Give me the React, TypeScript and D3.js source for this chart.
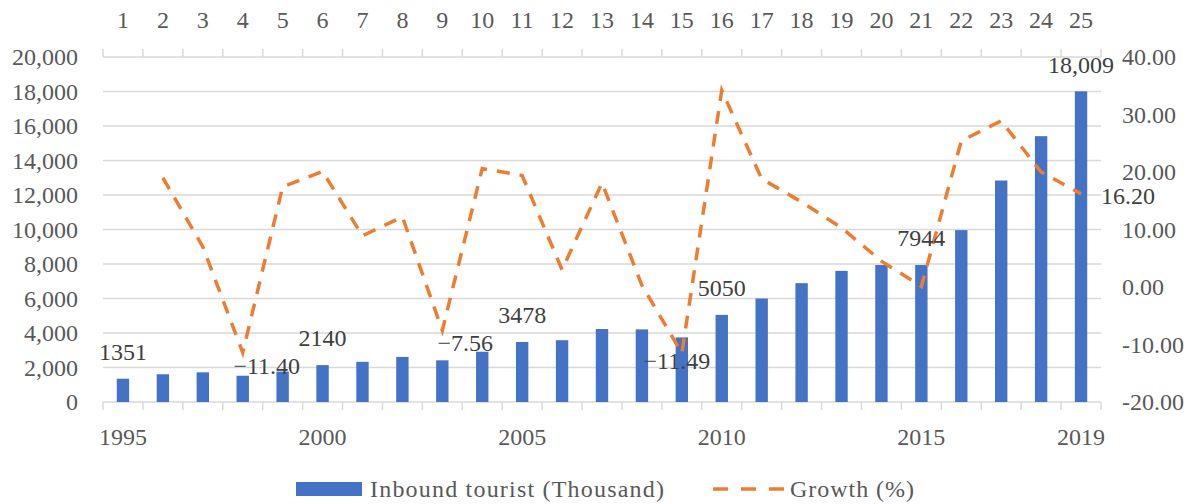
import * as d3 from 'd3';
import React from 'react';

// --------------------------------------------------------
// data
// --------------------------------------------------------
const years = [1995, 1996, 1997, 1998, 1999, 2000, 2001, 2002, 2003, 2004, 2005, 2006, 2007,
  2008, 2009, 2010, 2011, 2012, 2013, 2014, 2015, 2016, 2017, 2018, 2019];

const tourists = [1351, 1608, 1720, 1524, 1763, 2140, 2330, 2614, 2416, 2914, 3478, 3582, 4230,
  4210, 3745, 5050, 6000, 6888, 7600, 7940, 7944, 9962, 12840, 15410, 18009];

const growth = [null, 19.0, 7.0, -11.40, 17.4, 20.1, 8.9, 12.2, -7.56, 20.6, 19.4, 3.0, 18.1,
  0.3, -11.49, 34.2, 18.8, 14.8, 10.3, 4.5, 0.1, 25.4, 28.9, 20.0, 16.20];

const bottomTickYears = [1995, 2000, 2005, 2010, 2015, 2019];
const leftTicks = [0, 2000, 4000, 6000, 8000, 10000, 12000, 14000, 16000, 18000, 20000];
const rightTicks = [-20, -10, 0, 10, 20, 30, 40];

const barLabelYears = [1995, 2000, 2005, 2010, 2015, 2019];
const growthLabelYears = [1998, 2003, 2009, 2019];

const seriesNames = ['Inbound tourist (Thousand)', 'Growth (%)'];

// label placement (offsets from the point, px)
const growthLabelOffset = {
  1998: [24, 13, 'middle'],
  2003: [23, 12, 'middle'],
  2009: [-5, 8, 'middle'],
  2019: [20, 2, 'start'],
};

const BLUE = '#4472C4';
const ORANGE = '#ED7D31';
const GRID = '#d9d9d9';
const AXIS_TXT = '#595959';
const LABEL_TXT = '#404040';
const FONT = '"Liberation Serif", "Times New Roman", serif';

export default function App() {
  const W = 1192, H = 504;
  const left = 103, right = 1101, top = 57, bottom = 402;

  const x = d3.scaleBand().domain(years.map(String)).range([left, right]).padding(0);
  const step = x.step();
  const cx = (yr) => x(String(yr)) + step / 2;
  const barW = step * 0.31;

  const yL = d3.scaleLinear([0, 20000], [bottom, top]);
  const yR = d3.scaleLinear([-20, 40], [bottom, top]);

  const line = d3.line()
    .defined(d => d[1] != null)
    .x(d => cx(d[0]))
    .y(d => yR(d[1]));
  const growthPts = years.map((yr, i) => [yr, growth[i]]);

  const boundaries = d3.range(years.length + 1).map(i => left + i * step);

  return (
    <div style={{ position: 'absolute', left: 0, top: 0 }}>
      <svg width={W} height={H} style={{ display: 'block', fontFamily: FONT }}>
        <rect width={W} height={H} fill="#fff" />

        {/* gridlines */}
        {leftTicks.map(t => (
          <line key={t} x1={left} x2={right} y1={yL(t)} y2={yL(t)} stroke={GRID} strokeWidth={1.5} />
        ))}

        {/* top and bottom tick marks */}
        {boundaries.map((bx, i) => (
          <g key={i}>
            <line x1={bx} x2={bx} y1={top} y2={top - 8} stroke={GRID} strokeWidth={1.5} />
            <line x1={bx} x2={bx} y1={bottom} y2={bottom + 8} stroke={GRID} strokeWidth={1.5} />
          </g>
        ))}

        {/* bars */}
        {years.map((yr, i) => (
          <rect key={yr} x={cx(yr) - barW / 2} y={yL(tourists[i])} width={barW}
            height={bottom - yL(tourists[i])} fill={BLUE} />
        ))}

        {/* growth line */}
        <path d={line(growthPts)} fill="none" stroke={ORANGE} strokeWidth={3.5}
          strokeDasharray="13 10" />

        {/* left axis */}
        {leftTicks.map(t => (
          <text key={t} x={78} y={yL(t)} dy="0.35em" textAnchor="end" fontSize={24} fill={AXIS_TXT}>
            {d3.format(',')(t)}
          </text>
        ))}

        {/* right axis */}
        {rightTicks.map(t => (
          <text key={t} x={1122} y={yR(t)} dy="0.35em" textAnchor="start" fontSize={24} fill={AXIS_TXT}>
            {t.toFixed(2)}
          </text>
        ))}

        {/* top axis: index */}
        {years.map((yr, i) => (
          <text key={yr} x={cx(yr)} y={20} dy="0.35em" textAnchor="middle" fontSize={24} fill={AXIS_TXT}>
            {i + 1}
          </text>
        ))}

        {/* bottom axis: years */}
        {bottomTickYears.map(yr => (
          <text key={yr} x={cx(yr)} y={437} dy="0.35em" textAnchor="middle" fontSize={24} fill={AXIS_TXT}>
            {yr}
          </text>
        ))}

        {/* bar data labels */}
        {barLabelYears.map(yr => {
          const v = tourists[years.indexOf(yr)];
          return (
            <text key={yr} x={cx(yr)} y={yL(v) - 27} dy="0.35em" textAnchor="middle" fontSize={24} fill={LABEL_TXT}>
              {v >= 10000 ? d3.format(',')(v) : String(v)}
            </text>
          );
        })}

        {/* growth data labels */}
        {growthLabelYears.map(yr => {
          const v = growth[years.indexOf(yr)];
          const [dx, dy, anchor] = growthLabelOffset[yr];
          return (
            <text key={yr} x={cx(yr) + dx} y={yR(v) + dy} dy="0.35em" textAnchor={anchor} fontSize={24} fill={LABEL_TXT}>
              {(v < 0 ? '\u2212' : '') + Math.abs(v).toFixed(2)}
            </text>
          );
        })}

        {/* legend */}
        <rect x={296} y={482} width={66} height={14} fill={BLUE} />
        <text x={370} y={489} dy="0.35em" fontSize={24} fill={AXIS_TXT}
          textLength={294} lengthAdjust="spacing">{seriesNames[0]}</text>
        <line x1={713} x2={785} y1={489} y2={489} stroke={ORANGE} strokeWidth={3.5} strokeDasharray="15 13" />
        <text x={790} y={489} dy="0.35em" fontSize={24} fill={AXIS_TXT}
          textLength={124} lengthAdjust="spacing">{seriesNames[1]}</text>
      </svg>
    </div>
  );
}
